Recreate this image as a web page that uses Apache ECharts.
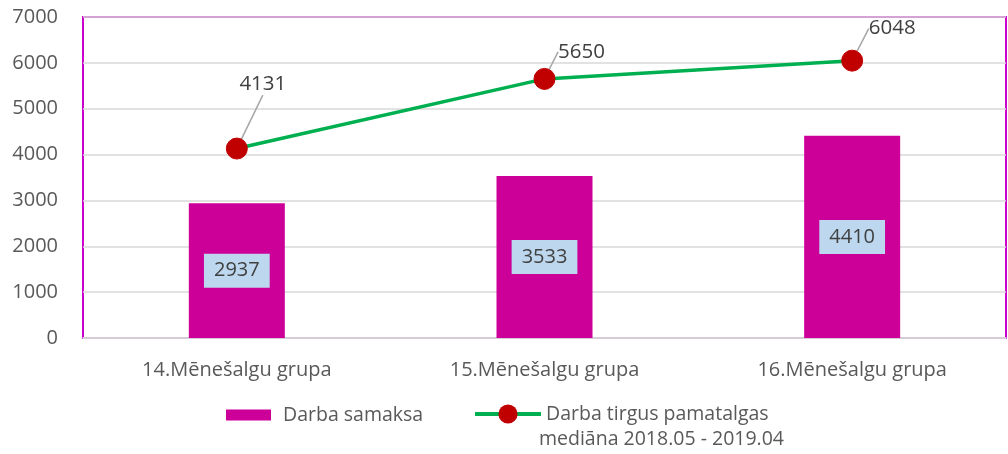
<!DOCTYPE html>
<html><head><meta charset="utf-8">
<script src="https://cdn.jsdelivr.net/npm/echarts@6/dist/echarts.min.js"></script>
<style>html,body{margin:0;padding:0;background:#fff}#c{width:1008px;height:454px}</style>
</head><body><div id="c"></div>
<script>
const categories = ['14.Mēnešalgu grupa', '15.Mēnešalgu grupa', '16.Mēnešalgu grupa'];
const barValues = [2937, 3533, 4410];
const lineValues = [4131, 5650, 6048];
const barName = 'Darba samaksa';
const lineName = 'Darba tirgus pamatalgas';
const lineName2 = 'mediāna 2018.05 - 2019.04';
const yTicks = [0, 1000, 2000, 3000, 4000, 5000, 6000, 7000];

const labelOffsets = [[26, -64], [37, -27], [40, -32]];
const FONT = '"Open Sans", "Noto Sans", sans-serif';
const chart = echarts.init(document.getElementById('c'));
chart.setOption({
  animation: false,
  textStyle: { fontFamily: FONT },
  grid: { left: 83, top: 17, right: 2, bottom: 116, show: true, borderColor: '#CC00CC', borderWidth: 2, backgroundColor: 'transparent' },
  legend: [
    {
      left: 221, top: 400, itemWidth: 45, itemHeight: 11,
      textStyle: { fontSize: 19.5, color: '#595959', fontFamily: FONT, padding: [0, 0, 0, 7] },
      data: [{ name: barName, icon: 'rect' }]
    },
    {
      left: 468, top: 399, itemWidth: 66, itemHeight: 24,
      textStyle: { fontSize: 19.5, color: '#595959', fontFamily: FONT, padding: [0, 0, 0, 0] },
      data: [{ name: lineName, itemStyle: { color: '#C00000' }, lineStyle: { color: '#00B050', width: 4 } }]
    }
  ],
  graphic: [{ type: 'text', left: 539, top: 429, style: { text: lineName2, fontSize: 19.5, fill: '#595959', fontFamily: FONT } }],
  xAxis: {
    type: 'category', data: categories,
    axisLine: { lineStyle: { color: '#D9D9D9', width: 1.5 } },
    axisTick: { show: false },
    axisLabel: { fontSize: 20, color: '#595959', margin: 22 }
  },
  yAxis: {
    type: 'value', min: yTicks[0], max: yTicks[yTicks.length - 1], interval: 1000,
    axisLine: { show: false }, axisTick: { show: false },
    axisLabel: { fontSize: 20, color: '#595959', margin: 25, formatter: v => String(v) },
    splitLine: { lineStyle: { color: '#D9D9D9', width: 1.5 } }
  },
  series: [
    {
      name: barName, type: 'bar', data: barValues, barWidth: 96,
      itemStyle: { color: '#CC0099' },
      label: { show: true, position: 'inside', fontSize: 20, color: '#404040', backgroundColor: '#BDD7EE', padding: [8, 10, 6, 10], fontFamily: FONT }
    },
    {
      name: lineName, type: 'line', data: lineValues,
      symbol: 'circle', symbolSize: 21,
      lineStyle: { color: '#00B050', width: 3.5 },
      itemStyle: { color: '#C00000', borderColor: '#C00000' },
      label: { show: true, position: 'inside', fontSize: 20.5, color: '#404040', fontFamily: FONT },
      labelLine: { show: true, lineStyle: { color: '#A6A6A6', width: 1.5 } },
      labelLayout: function (p) { const o = labelOffsets[p.dataIndex]; return { dx: o[0], dy: o[1] }; },
      z: 5
    }
  ]
});
</script></body></html>
